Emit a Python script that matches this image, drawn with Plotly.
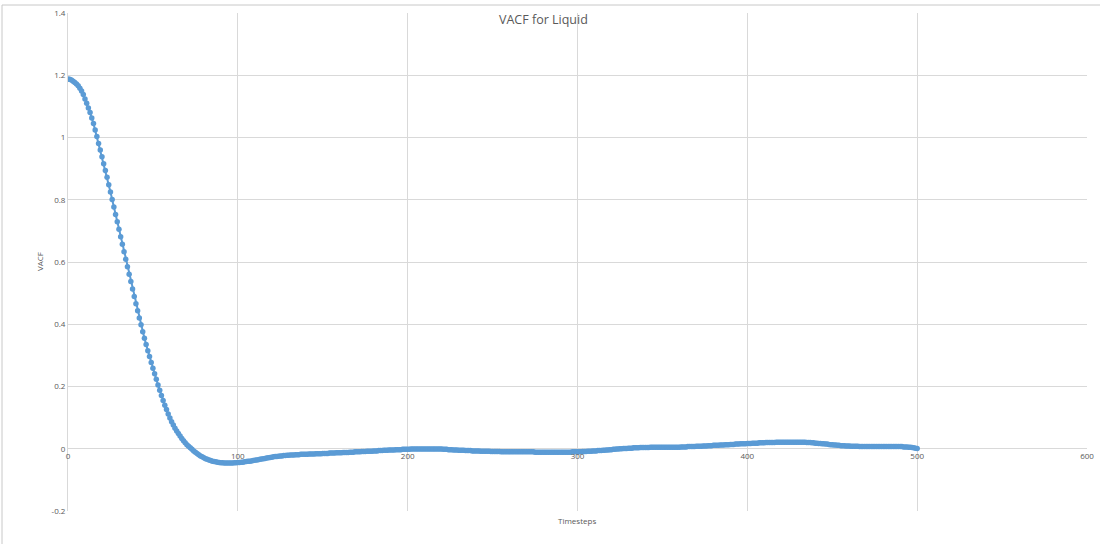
import plotly.graph_objs as go

vacf = [
    1.188, 1.187, 1.185, 1.181, 1.177, 1.172, 1.166, 1.158, 1.149, 1.138,
    1.124, 1.110, 1.095, 1.080, 1.063, 1.045, 1.024, 1.003, 0.981, 0.960,
    0.938, 0.916, 0.894, 0.872, 0.848, 0.825, 0.801, 0.777, 0.753, 0.729,
    0.705, 0.681, 0.657, 0.633, 0.609, 0.585, 0.561, 0.537, 0.513, 0.489,
    0.466, 0.443, 0.420, 0.398, 0.376, 0.355, 0.335, 0.315, 0.296, 0.277,
    0.259, 0.241, 0.223, 0.205, 0.188, 0.171, 0.155, 0.140, 0.126, 0.112,
    0.099, 0.087, 0.076, 0.066, 0.057, 0.049, 0.041, 0.033, 0.026, 0.019,
    0.013, 0.008, 0.003, -0.002, -0.007, -0.011, -0.015, -0.019, -0.023, -0.026,
    -0.029, -0.032, -0.034, -0.036, -0.038, -0.040, -0.041, -0.042, -0.043, -0.044,
    -0.045, -0.045, -0.046, -0.046, -0.046, -0.046, -0.046, -0.046, -0.045, -0.045,
    -0.044, -0.044, -0.043, -0.043, -0.042, -0.041, -0.040, -0.040, -0.039, -0.038,
    -0.037, -0.036, -0.035, -0.034, -0.033, -0.032, -0.031, -0.030, -0.029, -0.028,
    -0.027, -0.026, -0.025, -0.025, -0.024, -0.023, -0.023, -0.022, -0.022, -0.021,
    -0.021, -0.020, -0.020, -0.020, -0.019, -0.019, -0.019, -0.018, -0.018, -0.018,
    -0.018, -0.018, -0.017, -0.017, -0.017, -0.017, -0.016, -0.016, -0.016, -0.016,
    -0.015, -0.015, -0.015, -0.015, -0.014, -0.014, -0.014, -0.014, -0.013, -0.013,
    -0.013, -0.013, -0.012, -0.012, -0.012, -0.012, -0.011, -0.011, -0.011, -0.010,
    -0.010, -0.010, -0.010, -0.009, -0.009, -0.009, -0.008, -0.008, -0.008, -0.008,
    -0.007, -0.007, -0.007, -0.006, -0.006, -0.006, -0.005, -0.005, -0.005, -0.004,
    -0.004, -0.004, -0.004, -0.003, -0.003, -0.003, -0.003, -0.002, -0.002, -0.002,
    -0.002, -0.002, -0.001, -0.001, -0.001, -0.001, -0.001, -0.001, -0.001, -0.001,
    -0.001, -0.001, -0.001, -0.001, -0.001, -0.001, -0.001, -0.001, -0.001, -0.001,
    -0.001, -0.002, -0.002, -0.002, -0.003, -0.003, -0.003, -0.004, -0.004, -0.004,
    -0.005, -0.005, -0.005, -0.005, -0.006, -0.006, -0.006, -0.006, -0.007, -0.007,
    -0.007, -0.007, -0.007, -0.008, -0.008, -0.008, -0.008, -0.008, -0.008, -0.009,
    -0.009, -0.009, -0.009, -0.009, -0.009, -0.010, -0.010, -0.010, -0.010, -0.010,
    -0.010, -0.010, -0.010, -0.010, -0.010, -0.010, -0.010, -0.010, -0.010, -0.010,
    -0.010, -0.010, -0.010, -0.010, -0.010, -0.011, -0.011, -0.011, -0.011, -0.011,
    -0.011, -0.011, -0.011, -0.011, -0.011, -0.011, -0.011, -0.011, -0.011, -0.011,
    -0.011, -0.011, -0.011, -0.011, -0.011, -0.011, -0.011, -0.010, -0.010, -0.010,
    -0.010, -0.010, -0.010, -0.009, -0.009, -0.009, -0.008, -0.008, -0.008, -0.007,
    -0.007, -0.007, -0.006, -0.006, -0.006, -0.005, -0.005, -0.004, -0.004, -0.003,
    -0.003, -0.002, -0.002, -0.001, -0.001, 0.000, 0.000, 0.001, 0.001, 0.001,
    0.002, 0.002, 0.002, 0.003, 0.003, 0.003, 0.003, 0.004, 0.004, 0.004,
    0.004, 0.004, 0.004, 0.005, 0.005, 0.005, 0.005, 0.005, 0.005, 0.005,
    0.005, 0.005, 0.005, 0.005, 0.005, 0.005, 0.005, 0.005, 0.005, 0.005,
    0.005, 0.006, 0.006, 0.006, 0.006, 0.007, 0.007, 0.007, 0.007, 0.007,
    0.008, 0.008, 0.008, 0.008, 0.009, 0.009, 0.009, 0.010, 0.010, 0.010,
    0.011, 0.011, 0.011, 0.011, 0.012, 0.012, 0.012, 0.013, 0.013, 0.013,
    0.014, 0.014, 0.014, 0.015, 0.015, 0.015, 0.016, 0.016, 0.016, 0.016,
    0.017, 0.017, 0.017, 0.018, 0.018, 0.018, 0.018, 0.019, 0.019, 0.019,
    0.019, 0.020, 0.020, 0.020, 0.020, 0.020, 0.020, 0.021, 0.021, 0.021,
    0.021, 0.021, 0.021, 0.021, 0.021, 0.021, 0.021, 0.021, 0.021, 0.021,
    0.021, 0.021, 0.021, 0.021, 0.021, 0.020, 0.020, 0.020, 0.019, 0.019,
    0.018, 0.018, 0.017, 0.017, 0.016, 0.016, 0.015, 0.015, 0.014, 0.013,
    0.013, 0.012, 0.012, 0.011, 0.011, 0.010, 0.010, 0.010, 0.009, 0.009,
    0.009, 0.008, 0.008, 0.008, 0.008, 0.008, 0.007, 0.007, 0.007, 0.007,
    0.007, 0.007, 0.007, 0.007, 0.007, 0.007, 0.007, 0.007, 0.007, 0.007,
    0.007, 0.007, 0.007, 0.007, 0.007, 0.007, 0.007, 0.007, 0.007, 0.007,
    0.007, 0.007, 0.006, 0.006, 0.006, 0.005, 0.005, 0.004, 0.003, 0.002,
    0.001,
]
timesteps = list(range(len(vacf)))

x_ticks = [0, 100, 200, 300, 400, 500, 600]
y_ticks = [-0.2, 0, 0.2, 0.4, 0.6, 0.8, 1, 1.2, 1.4]
y_tick_labels = ["-0.2", "0", "0.2", "0.4", "0.6", "0.8", "1", "1.2", "1.4"]

BLUE = "#5B9BD5"
GRID = "#D9D9D9"
TEXT = "#595959"
FONT = "Open Sans"

W, H = 1100, 544
L, R, T, B = 68, 13, 13, 33
pw, ph = W - L - R, H - T - B


def px(x):
    return (x - L) / pw


def py(y):
    return (H - B - y) / ph


fig = go.Figure()
fig.add_trace(go.Scatter(
    x=timesteps, y=vacf,
    mode="lines+markers",
    line=dict(color=BLUE, width=2),
    marker=dict(color=BLUE, size=5.5),
    showlegend=False,
    hoverinfo="x+y",
))

fig.update_layout(
    width=W, height=H,
    margin=dict(l=L, r=R, t=T, b=B, autoexpand=False),
    paper_bgcolor="white", plot_bgcolor="white",
    font=dict(family=FONT, color=TEXT, size=8),
    xaxis=dict(
        range=[0, 600], tickvals=x_ticks,
        showgrid=True, gridcolor=GRID, gridwidth=1,
        zeroline=False, showline=False, ticks="", automargin=False,
        anchor="free", position=py(449.5),
        tickfont=dict(size=8, color=TEXT),
    ),
    yaxis=dict(
        range=[-0.2, 1.4], tickvals=y_ticks, ticktext=y_tick_labels,
        showgrid=True, gridcolor=GRID, gridwidth=1, automargin=False,
        zeroline=False, showline=True, linecolor=GRID, ticks="",
        tickfont=dict(size=8, color=TEXT),
    ),
    annotations=[
        dict(text="VACF for Liquid", xref="paper", yref="paper",
             x=px(543), y=py(19), showarrow=False,
             xanchor="center", yanchor="middle",
             font=dict(size=12.5, color=TEXT, family=FONT)),
        dict(text="Timesteps", xref="paper", yref="paper",
             x=px(577), y=py(520), showarrow=False,
             xanchor="center", yanchor="middle",
             font=dict(size=8, color=TEXT, family=FONT)),
        dict(text="VACF", xref="paper", yref="paper",
             x=px(39), y=py(262), showarrow=False, textangle=-90,
             xanchor="center", yanchor="middle",
             font=dict(size=8, color=TEXT, family=FONT)),
    ],
    shapes=[
        # chart frame edges
        dict(type="line", xref="paper", yref="paper",
             x0=px(2), x1=px(1100), y0=py(5), y1=py(5),
             line=dict(color="#C8C8C8", width=1)),
        dict(type="line", xref="paper", yref="paper",
             x0=px(2), x1=px(2), y0=py(5), y1=py(544),
             line=dict(color="#C8C8C8", width=1)),
    ],
)

# drop the default page margin so the figure sits at the window origin
fig.write_html("out.html",
               config={"displayModeBar": False},
               post_script="document.body.style.margin='0';"
                           "document.body.style.overflow='hidden';")
